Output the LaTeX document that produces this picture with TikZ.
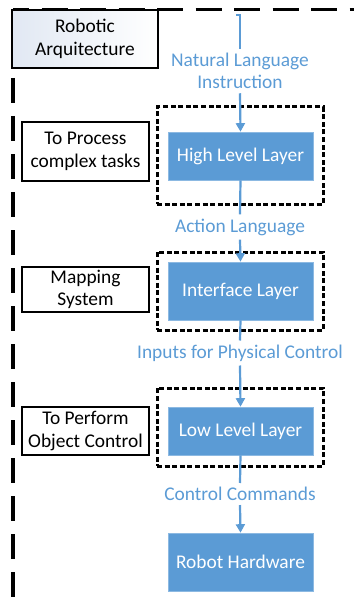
\documentclass[tikz,border=0pt]{standalone}
\usepackage{fontspec}
\setmainfont{Carlito}
\usetikzlibrary{arrows.meta,shadows}
\definecolor{layerblue}{HTML}{5B9BD5}
\definecolor{titleblue}{HTML}{E1E8F3}
\begin{document}
\begin{tikzpicture}[x=1pt,y=-1pt,
  font=\fontsize{19.4}{22.5}\selectfont,
  layer/.style={fill=layerblue, draw=layerblue!70!white, line width=0.6pt, text=white,
    minimum width=145pt, inner sep=0pt,
    drop shadow={opacity=0.25, shadow xshift=0.8pt, shadow yshift=-0.8pt}},
  group/.style={draw=black, line width=3pt, dash pattern=on 5pt off 2.6pt,
    minimum width=166pt, inner sep=0pt},
  sidebox/.style={draw=black, line width=2pt, align=center, minimum width=127pt, inner sep=0pt},
  flowlabel/.style={text=layerblue, align=center, inner sep=4pt},
  flow/.style={draw=layerblue, line width=2.2pt},
  flowarrow/.style={flow, -{Triangle[width=9pt,length=8.5pt]}}]
\useasboundingbox (0,0) rectangle (354,607);

% outer dashed frame
\draw[line width=3pt, dash pattern=on 26pt off 12.5pt, dash phase=10pt] (13,10) -- (354,10);
\draw[line width=3.2pt, dash pattern=on 25pt off 13pt, dash phase=-10pt] (13,68) -- (13,607);

% title box
\node[draw=black, line width=2.8pt, left color=titleblue, right color=white,
  align=center, minimum width=146pt, minimum height=58pt, inner sep=0pt]
  (title) at (85,39) {Robotic\\Arquitecture};

% dashed groups around the first three layers
\node[group, minimum height=97pt] (g1) at (240,155.5) {};
\node[group, minimum height=78pt] (g2) at (240,291) {};
\node[group, minimum height=78pt] (g3) at (240,427) {};

% layers
\node[layer, minimum height=48pt] (hll) at (240.5,156) {High Level Layer};
\node[layer, minimum height=58pt] (il)  at (240.5,291) {Interface Layer};
\node[layer, minimum height=48pt] (lll) at (240.5,431) {Low Level Layer};
\node[layer, minimum height=58pt] (rh)  at (240.5,562) {Robot Hardware};

% descriptions on the left
\node[sidebox, minimum height=59pt] (s1) at (85.5,151.5) {To Process\\complex tasks};
\node[sidebox, minimum height=45pt] (s2) at (85.5,289.5) {Mapping\\System};
\node[sidebox, minimum height=48pt] (s3) at (85.5,431) {To Perform\\Object Control};

% flow labels
\node[flowlabel] (nl)  at (240,71)  {Natural Language\\Instruction};
\node[flowlabel] (al)  at (240,227) {Action Language};
\node[flowlabel] (ipc) at (240,353) {Inputs for Physical Control};
\node[flowlabel] (cc)  at (240,494) {Control Commands};

% flow connectors
\coordinate (in) at (236,15);
\draw[flow] (in) -| (nl.north);
\draw[flowarrow] (nl.south) -- (hll.north);
\draw[flow] (hll.south) -- (al.north);
\draw[flowarrow] (al.south) -- (il.north);
\draw[flow] (il.south) -- (ipc.north);
\draw[flowarrow] (ipc.south) -- (lll.north);
\draw[flow] (lll.south) -- (cc.north);
\draw[flowarrow] (cc.south) -- (rh.north);
\end{tikzpicture}
\end{document}
